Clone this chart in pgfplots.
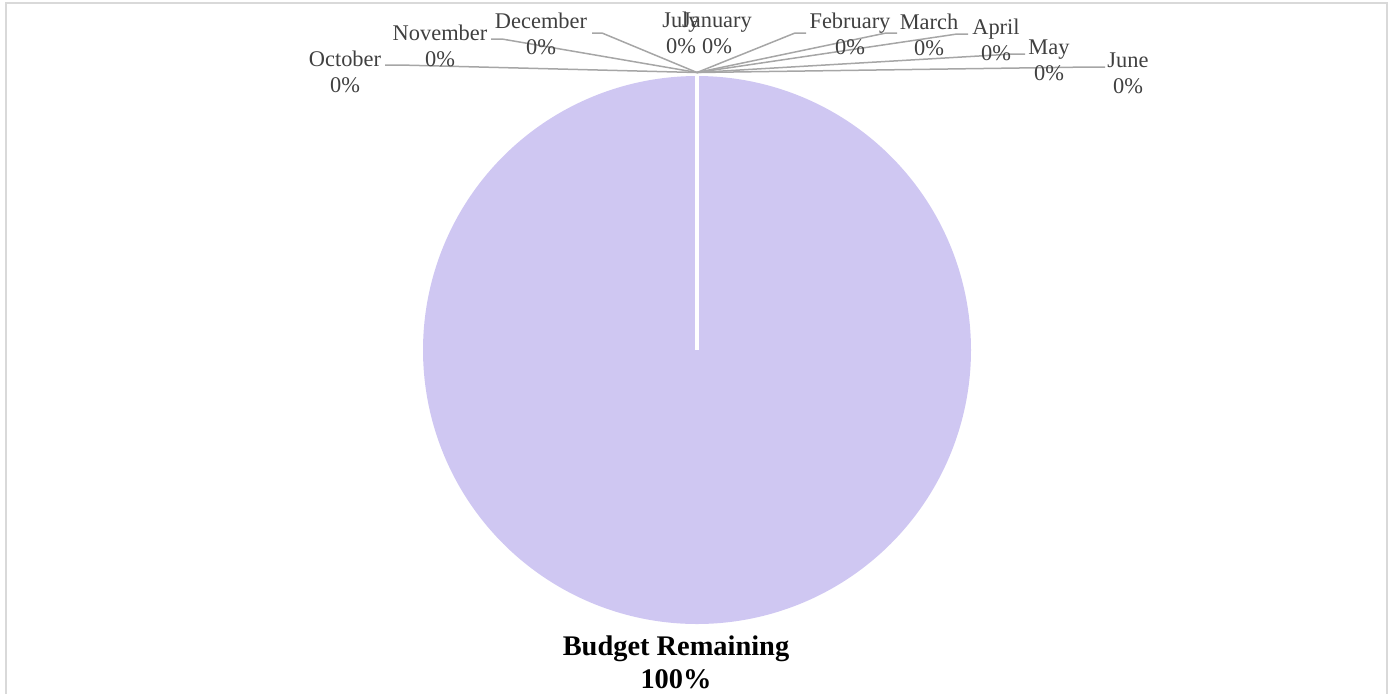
\documentclass[border=0pt]{standalone}
\usepackage{fontspec}
\setmainfont{Liberation Serif}
\usepackage{pgfplots}
\pgfplotsset{compat=1.18}
\definecolor{pie}{RGB}{207,199,242}
\definecolor{lead}{RGB}{166,166,166}
\definecolor{lab}{RGB}{64,64,64}
\definecolor{frm}{RGB}{217,217,217}
\newcommand{\budget}{100}% Budget Remaining, percent; all months are 0
\begin{document}
\begin{tikzpicture}
\begin{axis}[name=ax, scale only axis, width=694pt, height=346.5pt,
  xmin=0, xmax=1388, ymin=0, ymax=693, y dir=reverse, hide axis, clip=false]
% chart frame
\addplot[frm, line width=1pt] coordinates {(6,720) (6,3) (1386.5,3) (1386.5,720)};
% Budget Remaining slice (100%)
\addplot[fill=pie, draw=none, domain=0:3.6*\budget, samples=361]
  ({697+274*sin(x)},{350-274*cos(x)});
\addplot[white, line width=2pt] coordinates {(697,350) (697,75)};
% leader lines of the zero slices
\addplot[lead, line width=0.75pt] coordinates {(385,65) (400,65) (697,72.5)};
\addplot[lead, line width=0.75pt] coordinates {(491,39) (502,39) (697,72.5)};
\addplot[lead, line width=0.75pt] coordinates {(592,33) (602,33) (697,72.5)};
\addplot[lead, line width=0.75pt] coordinates {(806,33) (795,33) (697,72.5)};
\addplot[lead, line width=0.75pt] coordinates {(897,33) (886,33) (697,72.5)};
\addplot[lead, line width=0.75pt] coordinates {(968,34) (957,34) (697,72.5)};
\addplot[lead, line width=0.75pt] coordinates {(1025,54) (1013,54) (697,72.5)};
\addplot[lead, line width=0.75pt] coordinates {(1105,67) (1090,67) (697,72.5)};
% labels
\tikzset{lbl/.style={text=lab, align=center, inner sep=0pt, font=\fontsize{11.2}{13}\selectfont}}
\node[lbl] at (axis cs:345,72) {October\\0\%};
\node[lbl] at (axis cs:440,46) {November\\0\%};
\node[lbl] at (axis cs:541,34) {December\\0\%};
\node[lbl] at (axis cs:681,33) {July\\0\%};
\node[lbl] at (axis cs:717,33) {January\\0\%};
\node[lbl] at (axis cs:850,34) {February\\0\%};
\node[lbl] at (axis cs:929,35) {March\\0\%};
\node[lbl] at (axis cs:996,40) {April\\0\%};
\node[lbl] at (axis cs:1049,60) {May\\0\%};
\node[lbl] at (axis cs:1128,73) {June\\0\%};
\node[align=center, inner sep=0pt, font=\fontsize{14.2}{16.5}\selectfont\bfseries] at (axis cs:676,662) {Budget Remaining\\100\%};
\end{axis}
\pgfresetboundingbox
\path[use as bounding box] (ax.south west) rectangle (ax.north east);
\end{tikzpicture}
\end{document}
